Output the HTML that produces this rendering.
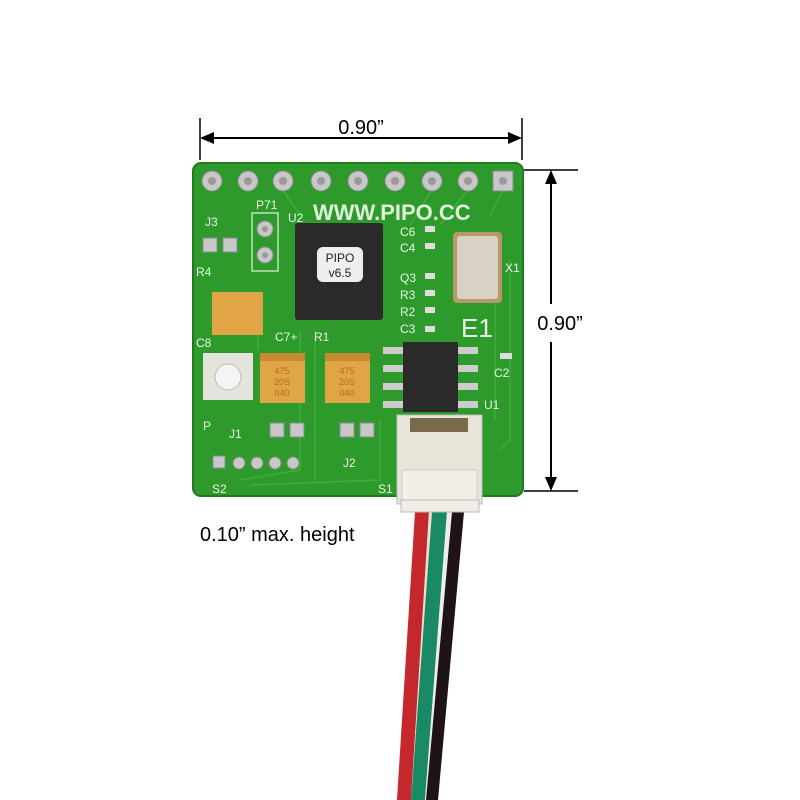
<!DOCTYPE html><html><head><style>body{margin:0;background:#fff}svg{display:block}</style></head><body>
<svg width="800" height="800" viewBox="0 0 800 800" xmlns="http://www.w3.org/2000/svg" font-family="Liberation Sans, sans-serif">
<rect width="800" height="800" fill="#fff"/>
<line x1="200" y1="118" x2="200" y2="160" stroke="#000" stroke-width="1.5"/>
<line x1="522" y1="118" x2="522" y2="160" stroke="#000" stroke-width="1.5"/>
<line x1="204" y1="138" x2="518" y2="138" stroke="#000" stroke-width="2"/>
<polygon points="200,138 214,132 214,144" fill="#000"/>
<polygon points="522,138 508,132 508,144" fill="#000"/>
<text x="361" y="134" font-size="20" text-anchor="middle" fill="#000">0.90”</text>
<line x1="524" y1="170" x2="578" y2="170" stroke="#000" stroke-width="1.5"/>
<line x1="524" y1="491" x2="578" y2="491" stroke="#000" stroke-width="1.5"/>
<line x1="551" y1="174" x2="551" y2="304" stroke="#000" stroke-width="2"/>
<line x1="551" y1="342" x2="551" y2="487" stroke="#000" stroke-width="2"/>
<polygon points="551,170 545,184 557,184" fill="#000"/>
<polygon points="551,491 545,477 557,477" fill="#000"/>
<text x="560" y="330" font-size="20" text-anchor="middle" fill="#000">0.90”</text>
<text x="200" y="541" font-size="20" fill="#000">0.10” max. height</text>
<!-- wires -->
<path d="M415 512 L397 800 L411 800 L429 512Z" fill="#c4282c"/>
<path d="M429 512 L411 800 L412 800 L432 512Z" fill="#e8e0d0"/>
<path d="M432 512 L411 800 L425 800 L447 512Z" fill="#1a8a66"/>
<path d="M447 512 L425 800 L426 800 L452 512Z" fill="#eee"/>
<path d="M452 512 L426 800 L438 800 L464 512Z" fill="#1e1416"/>
<!-- board -->
<rect x="193" y="163" width="330" height="333" rx="8" fill="#2e9a2c"/>
<rect x="193" y="163" width="330" height="333" rx="8" fill="none" stroke="#1f7a1f" stroke-width="2"/>
<g fill="none" stroke="#3fae3a" stroke-width="1.5">
<path d="M283 190 L300 215"/><path d="M432 190 L410 225"/><path d="M468 190 L440 225"/><path d="M503 190 L490 215"/>
<path d="M510 260 L510 440 L500 450"/><path d="M495 300 L495 420"/><path d="M300 330 L300 470 L240 480"/>
<path d="M315 330 L315 480"/><path d="M380 420 L380 480 L250 485"/><path d="M258 335 L258 350"/>
</g>
<g fill="#c8c8c8" stroke="#8a8a8a" stroke-width="1">
<circle cx="212" cy="181" r="10"/><circle cx="248" cy="181" r="10"/><circle cx="283" cy="181" r="10"/><circle cx="321" cy="181" r="10"/><circle cx="358" cy="181" r="10"/><circle cx="395" cy="181" r="10"/><circle cx="432" cy="181" r="10"/><circle cx="468" cy="181" r="10"/>
<rect x="493" y="171" width="20" height="20"/>
<circle cx="265" cy="229" r="8"/><circle cx="265" cy="255" r="8"/>
<rect x="203" y="238" width="14" height="14"/><rect x="223" y="238" width="14" height="14"/>
<rect x="270" y="423" width="14" height="14"/><rect x="290" y="423" width="14" height="14"/>
<rect x="340" y="423" width="14" height="14"/><rect x="360" y="423" width="14" height="14"/>
<rect x="213" y="456" width="12" height="12"/><circle cx="239" cy="463" r="6"/><circle cx="257" cy="463" r="6"/><circle cx="275" cy="463" r="6"/><circle cx="293" cy="463" r="6"/>
</g>
<g fill="#9a9a9a"><circle cx="212" cy="181" r="4"/><circle cx="248" cy="181" r="4"/><circle cx="283" cy="181" r="4"/><circle cx="321" cy="181" r="4"/><circle cx="358" cy="181" r="4"/><circle cx="395" cy="181" r="4"/><circle cx="432" cy="181" r="4"/><circle cx="468" cy="181" r="4"/><circle cx="503" cy="181" r="4"/><circle cx="265" cy="229" r="3"/><circle cx="265" cy="255" r="3"/></g>
<rect x="252" y="213" width="26" height="58" fill="none" stroke="#bfe3b8" stroke-width="1.5"/>
<rect x="295" y="223" width="88" height="97" rx="3" fill="#2a2a2a"/>
<rect x="317" y="247" width="46" height="35" rx="6" fill="#eee"/>
<text x="340" y="262" font-size="12" text-anchor="middle" fill="#222">PIPO</text>
<text x="340" y="277" font-size="12" text-anchor="middle" fill="#222">v6.5</text>
<rect x="453" y="232" width="49" height="71" rx="4" fill="#b89a6a"/>
<rect x="457" y="236" width="41" height="63" rx="3" fill="#d9d2c4"/>
<rect x="212" y="292" width="51" height="43" fill="#e0a645"/>
<rect x="260" y="353" width="45" height="50" fill="#e0a645"/><rect x="260" y="353" width="45" height="8" fill="#c88a30"/>
<rect x="325" y="353" width="45" height="50" fill="#e0a645"/><rect x="325" y="353" width="45" height="8" fill="#c88a30"/>
<g font-size="9" fill="#a87020" text-anchor="middle"><text x="282" y="374">475</text><text x="282" y="385">20S</text><text x="282" y="396">040</text><text x="347" y="374">475</text><text x="347" y="385">20S</text><text x="347" y="396">040</text></g>
<rect x="203" y="353" width="50" height="47" fill="#e4e4dc"/>
<circle cx="228" cy="377" r="13" fill="#f4f4f4" stroke="#bbb"/>
<g fill="#ccc"><rect x="383" y="347" width="22" height="7"/><rect x="383" y="365" width="22" height="7"/><rect x="383" y="383" width="22" height="7"/><rect x="383" y="401" width="22" height="7"/><rect x="456" y="347" width="22" height="7"/><rect x="456" y="365" width="22" height="7"/><rect x="456" y="383" width="22" height="7"/><rect x="456" y="401" width="22" height="7"/></g>
<rect x="403" y="342" width="55" height="70" fill="#2a2a2a"/>
<g fill="#ddd"><rect x="425" y="226" width="10" height="6"/><rect x="425" y="243" width="10" height="6"/><rect x="425" y="273" width="10" height="6"/><rect x="425" y="290" width="10" height="6"/><rect x="425" y="307" width="10" height="6"/><rect x="425" y="326" width="10" height="6"/><rect x="500" y="353" width="12" height="6"/></g>
<g fill="#eaf5e6" font-size="12">
<text x="313" y="220" font-size="22" font-weight="bold" fill="#dff0da">WWW.PIPO.CC</text>
<text x="461" y="337" font-size="26">E1</text>
<text x="205" y="226">J3</text><text x="256" y="209">P71</text><text x="288" y="222">U2</text>
<text x="196" y="276">R4</text><text x="196" y="347">C8</text><text x="275" y="341">C7+</text><text x="314" y="341">R1</text>
<text x="400" y="236">C6</text><text x="400" y="252">C4</text><text x="400" y="282">Q3</text><text x="400" y="299">R3</text><text x="400" y="316">R2</text><text x="400" y="333">C3</text>
<text x="505" y="272">X1</text><text x="494" y="377">C2</text><text x="484" y="409">U1</text>
<text x="203" y="430">P</text><text x="229" y="438">J1</text><text x="343" y="467">J2</text>
<text x="212" y="493">S2</text><text x="378" y="493">S1</text>
</g>
<rect x="397" y="415" width="85" height="89" fill="#e8e4da" stroke="#bbb"/>
<rect x="410" y="418" width="58" height="14" fill="#7a6a4a"/>
<rect x="402" y="470" width="75" height="34" fill="#f2efe8" stroke="#ccc"/>
<rect x="401" y="500" width="78" height="12" fill="#f0ede6" stroke="#bbb"/>
</svg>
</body></html>
